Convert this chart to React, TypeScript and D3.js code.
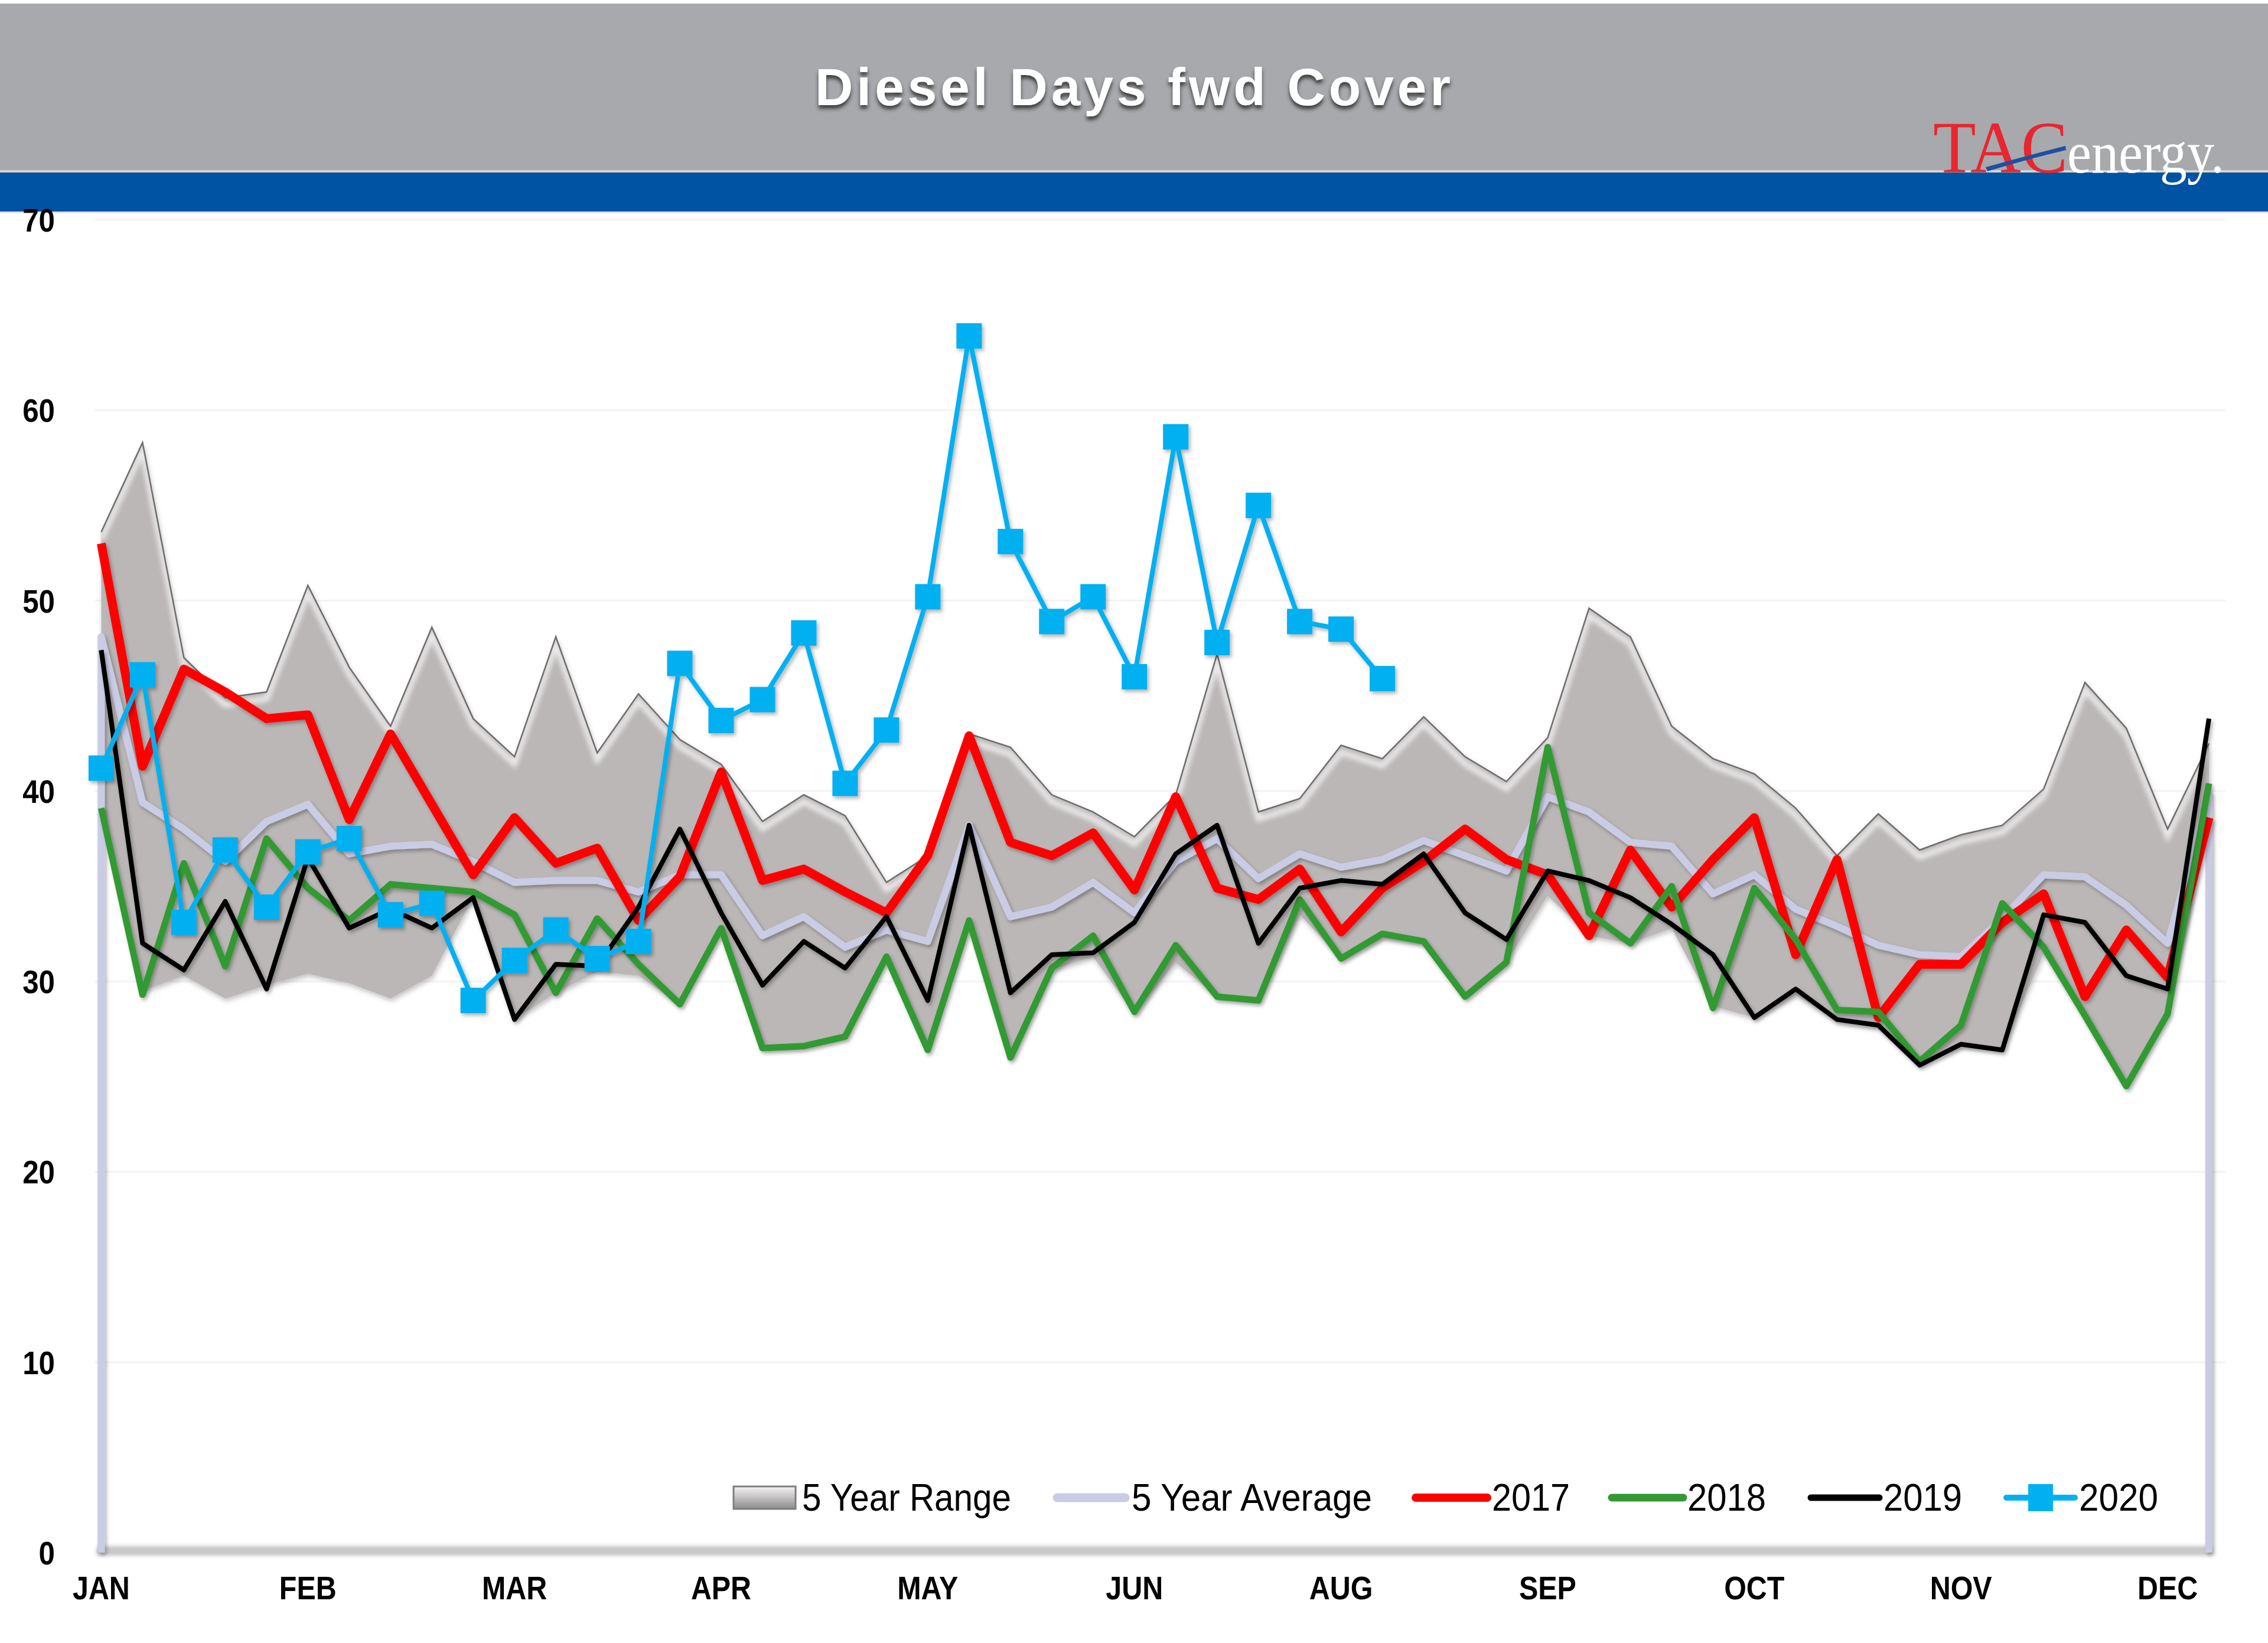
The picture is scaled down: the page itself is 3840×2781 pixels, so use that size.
import React from 'react';
import * as d3 from 'd3';

// ---------------- DATA ----------------
const weekIndex: number[] = Array.from({ length: 52 }, (_, i) => i);
const monthLabels = ['JAN', 'FEB', 'MAR', 'APR', 'MAY', 'JUN', 'AUG', 'SEP', 'OCT', 'NOV', 'DEC'];
const monthLabelWeeks = [0, 5, 10, 15, 20, 25, 30, 35, 40, 45, 50];
const yTicks = [0, 10, 20, 30, 40, 50, 60, 70];
const seriesNames = ['5 Year Range', '5 Year Average', '2017', '2018', '2019', '2020'];

const rangeHigh = [53.6, 58.3, 47.0, 44.9, 45.2, 50.8, 46.5, 43.4, 48.6, 43.8,
  41.8, 48.1, 42.0, 45.1, 42.7, 41.4, 38.4, 39.8, 38.7, 35.2,
  36.6, 43.0, 42.3, 39.8, 38.9, 37.6, 39.8, 47.2, 38.9, 39.6,
  42.4, 41.7, 43.9, 41.8, 40.5, 42.8, 49.6, 48.1, 43.4, 41.7,
  40.9, 39.1, 36.6, 38.8, 36.9, 37.7, 38.2, 40.1, 45.7, 43.3,
  38.0, 42.5];
const rangeLow = [39.0, 29.5, 30.3, 29.1, 29.8, 30.4, 29.9, 29.1, 30.3, 34.4,
  28.0, 29.4, 30.5, 30.3, 28.8, 32.7, 26.5, 26.6, 27.1, 31.3,
  26.4, 33.1, 25.9, 30.6, 31.3, 28.3, 31.0, 29.2, 29.0, 33.5,
  31.2, 32.3, 32.0, 29.2, 31.0, 34.5, 32.4, 32.0, 32.8, 28.7,
  28.1, 29.3, 27.9, 27.6, 25.7, 26.6, 26.4, 31.5, 28.1, 24.5,
  28.3, 38.6];
const avg5 = [48.1, 39.4, 38.0, 36.3, 38.4, 39.3, 36.7, 37.1, 37.2, 36.3,
  35.2, 35.3, 35.3, 34.7, 35.6, 35.6, 32.4, 33.4, 31.8, 32.7,
  32.1, 38.2, 33.4, 33.9, 35.2, 33.6, 36.3, 37.5, 35.4, 36.7,
  36.0, 36.4, 37.4, 36.6, 35.8, 39.7, 38.9, 37.3, 37.1, 34.6,
  35.6, 33.8, 32.9, 31.9, 31.4, 31.3, 33.3, 35.6, 35.5, 34.0,
  32.0, 39.8];
const y2017 = [53.0, 41.3, 46.4, 45.2, 43.8, 44.0, 38.5, 43.0, 39.3, 35.6,
  38.6, 36.2, 37.0, 33.2, 35.5, 41.0, 35.3, 35.9, 34.7, 33.6,
  36.6, 42.9, 37.3, 36.6, 37.8, 34.8, 39.7, 34.9, 34.3, 35.9,
  32.6, 34.9, 36.3, 38.0, 36.4, 35.6, 32.4, 36.9, 33.9, 36.4,
  38.6, 31.4, 36.4, 28.1, 30.9, 30.9, 33.1, 34.6, 29.2, 32.7,
  30.2, 38.6];
const y2018 = [39.1, 29.3, 36.2, 30.8, 37.5, 34.9, 33.2, 35.1, 34.9, 34.7,
  33.5, 29.4, 33.3, 30.9, 28.8, 32.8, 26.5, 26.6, 27.1, 31.3,
  26.4, 33.2, 26.0, 30.7, 32.4, 28.4, 31.9, 29.2, 29.0, 34.3,
  31.2, 32.5, 32.1, 29.2, 31.0, 42.3, 33.6, 32.0, 35.0, 28.6,
  34.9, 32.2, 28.5, 28.4, 25.8, 27.7, 34.1, 31.8, 28.2, 24.5,
  28.3, 40.4];
const y2019 = [47.4, 32.0, 30.6, 34.2, 29.6, 36.5, 32.8, 33.8, 32.8, 34.4,
  28.0, 30.9, 30.8, 33.9, 38.0, 33.6, 29.8, 32.1, 30.7, 33.4,
  29.0, 38.2, 29.4, 31.4, 31.5, 33.1, 36.7, 38.2, 32.0, 34.9,
  35.3, 35.1, 36.7, 33.6, 32.2, 35.8, 35.3, 34.4, 33.0, 31.4,
  28.1, 29.6, 28.0, 27.7, 25.6, 26.7, 26.4, 33.5, 33.1, 30.3,
  29.6, 43.8];
const y2020 = [41.2, 46.1, 33.1, 36.9, 33.9, 36.8, 37.5, 33.5, 34.1, 29.0,
  31.1, 32.7, 31.2, 32.1, 46.7, 43.7, 44.8, 48.3, 40.4, 43.2,
  50.2, 63.9, 53.1, 48.9, 50.2, 46.0, 58.6, 47.8, 55.0, 48.9,
  48.5, 45.9];

// ---------------- LAYOUT / STYLE ----------------
const W = 3840;
const H = 2781;
const PLOT_LEFT = 171.4;
const PLOT_RIGHT = 3740;
const PLOT_TOP = 372;
const PLOT_BOTTOM = 2628;
const SANS = "'Liberation Sans', Arial, sans-serif";
const SERIF = "'Liberation Serif', 'Times New Roman', serif";

const C_RED = '#ff0000';
const C_GREEN = '#339a33';
const C_BLACK = '#000000';
const C_BLUE = '#00b0f0';
const C_AVG = '#cacbe4';
const C_RANGE = '#bbb7b7';

export default function App() {
  const x = d3.scaleLinear().domain([0, weekIndex.length - 1]).range([PLOT_LEFT, PLOT_RIGHT]);
  const y = d3.scaleLinear().domain([0, 70]).range([PLOT_BOTTOM, PLOT_TOP]);

  const line = d3.line<number>().x((_, i) => x(weekIndex[i])).y((d) => y(d));
  const rangeArea = d3
    .area<number>()
    .x((_, i) => x(weekIndex[i]))
    .y0((_, i) => y(rangeLow[i]))
    .y1((d) => y(d));

  const avgPts: [number, number][] = [
    [weekIndex[0], 0],
    ...avg5.map((v, i) => [weekIndex[i], v] as [number, number]),
    [weekIndex[avg5.length - 1], 0],
  ];
  const avgPath = d3
    .line<[number, number]>()
    .x((d) => x(d[0]))
    .y((d) => y(d[1]))(avgPts) as string;

  const areaD = rangeArea(rangeHigh) as string;
  const topD = line(rangeHigh) as string;

  const legendY = 2535;
  const legendTextBase = 2557;
  const legend = [
    { name: seriesNames[0], kind: 'range', s0: 1242, s1: 1347, tx: 1358, tw: 354 },
    { name: seriesNames[1], kind: 'line', color: C_AVG, sw: 15, s0: 1790, s1: 1905, tx: 1916, tw: 407 },
    { name: seriesNames[2], kind: 'line', color: C_RED, sw: 14, s0: 2397, s1: 2518, tx: 2526, tw: 132 },
    { name: seriesNames[3], kind: 'line', color: C_GREEN, sw: 13, s0: 2729, s1: 2850, tx: 2857, tw: 133 },
    { name: seriesNames[4], kind: 'line', color: C_BLACK, sw: 11, s0: 3066, s1: 3182, tx: 3189, tw: 133 },
    { name: seriesNames[5], kind: 'marker', color: C_BLUE, sw: 10, s0: 3397, s1: 3513, tx: 3520, tw: 134 },
  ];

  const sq = 43;

  return (
    <svg
      width={W}
      height={H}
      viewBox={`0 0 ${W} ${H}`}
      style={{ position: 'absolute', left: 0, top: 0, background: '#ffffff' }}
    >
      <defs>
        <filter id="titleShadow" x="-10%" y="-30%" width="120%" height="180%">
          <feDropShadow dx="0" dy="6" stdDeviation="3" floodColor="#2a2a2a" floodOpacity="0.85" />
        </filter>
        <filter id="lineShadow" x="-5%" y="-20%" width="110%" height="140%">
          <feDropShadow dx="3" dy="4" stdDeviation="3" floodColor="#000" floodOpacity="0.3" />
        </filter>
        <filter id="areaShadow" x="-5%" y="-20%" width="110%" height="140%">
          <feDropShadow dx="2" dy="4" stdDeviation="4" floodColor="#000" floodOpacity="0.25" />
        </filter>
        <filter id="blur4" x="-5%" y="-20%" width="110%" height="140%">
          <feGaussianBlur stdDeviation="4" />
        </filter>
        <filter id="blur3" x="-5%" y="-100%" width="110%" height="300%">
          <feGaussianBlur stdDeviation="3" />
        </filter>
        <clipPath id="rangeClip">
          <path d={areaD} />
        </clipPath>
        <linearGradient id="swatchGrad" x1="0" y1="0" x2="0" y2="1">
          <stop offset="0" stopColor="#f4f4f4" />
          <stop offset="0.45" stopColor="#c8c6c6" />
          <stop offset="1" stopColor="#8c8a8a" />
        </linearGradient>
      </defs>

      {/* Header */}
      <rect x={0} y={0} width={W} height={H} fill="#ffffff" />
      <rect x={0} y={6} width={W} height={285} fill="#a7a9ac" />
      <rect x={0} y={288} width={W} height={4} fill="#d9d4cf" />
      <rect x={0} y={292} width={W} height={66} fill="#0053a2" />
      <rect x={0} y={358} width={W} height={3} fill="#dfe3ea" />
      <text
        x={1918}
        y={178}
        textAnchor="middle"
        fontFamily={SANS}
        fontWeight="bold"
        fontSize={89}
        fill="#ffffff"
        textLength={1076}
        lengthAdjust="spacing"
        filter="url(#titleShadow)"
      >
        Diesel Days fwd Cover
      </text>

      {/* Logo */}
      <text x={3273} y={292} fontFamily={SERIF} fontSize={124} fill="#e8262e" textLength={228} lengthAdjust="spacingAndGlyphs">
        TAC
      </text>
      <path d="M3362,283 Q3430,264 3497,247 L3498,254 Q3430,270 3365,290 Z" fill="#1f4fa0" />
      <text x={3500} y={292} fontFamily={SERIF} fontSize={100} fill="#ffffff" textLength={266} lengthAdjust="spacingAndGlyphs">
        energy.
      </text>

      {/* Gridlines (very faint) */}
      {yTicks.filter((t) => t > 0).map((t) => (
        <line key={'g' + t} x1={160} x2={3768} y1={y(t)} y2={y(t)} stroke="#f3f3f3" strokeWidth={3} />
      ))}

      {/* Floor band */}
      <rect x={164} y={2617} width={3582} height={16} fill="#c4c4c4" filter="url(#blur3)" />
      <line x1={164} x2={3746} y1={2626} y2={2626} stroke="#c9c9c9" strokeWidth={6} />

      {/* 5 year range area */}
      <path d={areaD} fill={C_RANGE} filter="url(#areaShadow)" />
      <g clipPath="url(#rangeClip)">
        <path d={topD} transform="translate(0,12)" fill="none" stroke="#ffffff" strokeWidth={9} opacity={0.75} filter="url(#blur4)" />
      </g>
      <path d={topD} fill="none" stroke="#6f6c6c" strokeWidth={2.5} />

      {/* 5 year average */}
      <path d={avgPath} fill="none" stroke={C_AVG} strokeWidth={12} strokeLinejoin="round" filter="url(#lineShadow)" />

      {/* Year lines */}
      <path d={line(y2017) as string} fill="none" stroke={C_RED} strokeWidth={15} strokeLinejoin="round" filter="url(#lineShadow)" />
      <path d={line(y2018) as string} fill="none" stroke={C_GREEN} strokeWidth={11} strokeLinejoin="round" filter="url(#lineShadow)" />
      <path d={line(y2019) as string} fill="none" stroke={C_BLACK} strokeWidth={8} strokeLinejoin="round" filter="url(#lineShadow)" />
      <g filter="url(#lineShadow)">
        <path d={line(y2020) as string} fill="none" stroke={C_BLUE} strokeWidth={8} strokeLinejoin="round" />
        {y2020.map((v, i) => (
          <rect key={'m' + i} x={x(weekIndex[i]) - sq / 2} y={y(v) - sq / 2} width={sq} height={sq} fill={C_BLUE} />
        ))}
      </g>

      {/* Y axis labels */}
      {yTicks.map((t) => (
        <text
          key={'y' + t}
          transform={`translate(93, ${y(t) + 20}) scale(0.88, 1)`}
          textAnchor="end"
          fontFamily={SANS}
          fontWeight="bold"
          fontSize={56}
          fill="#000000"
        >
          {t}
        </text>
      ))}

      {/* X axis labels */}
      {monthLabels.map((m, k) => (
        <text
          key={'x' + m}
          transform={`translate(${x(monthLabelWeeks[k])}, 2707) scale(0.88, 1)`}
          textAnchor="middle"
          fontFamily={SANS}
          fontWeight="bold"
          fontSize={55}
          fill="#000000"
        >
          {m}
        </text>
      ))}

      {/* Legend */}
      {legend.map((it) => (
        <g key={'l' + it.name}>
          {it.kind === 'range' && (
            <rect x={it.s0} y={legendY - 19} width={it.s1 - it.s0} height={38} fill="url(#swatchGrad)" stroke="#7f7d7d" strokeWidth={3} />
          )}
          {it.kind !== 'range' && (
            <line x1={it.s0} x2={it.s1} y1={legendY} y2={legendY} stroke={it.color} strokeWidth={it.sw} strokeLinecap="round" />
          )}
          {it.kind === 'marker' && (
            <rect x={(it.s0 + it.s1) / 2 - 21} y={legendY - 23} width={42} height={46} fill={it.color} />
          )}
          <text
            x={it.tx}
            y={legendTextBase}
            fontFamily={SANS}
            fontSize={64}
            fill="#000000"
            textLength={it.tw}
            lengthAdjust="spacingAndGlyphs"
          >
            {it.name}
          </text>
        </g>
      ))}
    </svg>
  );
}
